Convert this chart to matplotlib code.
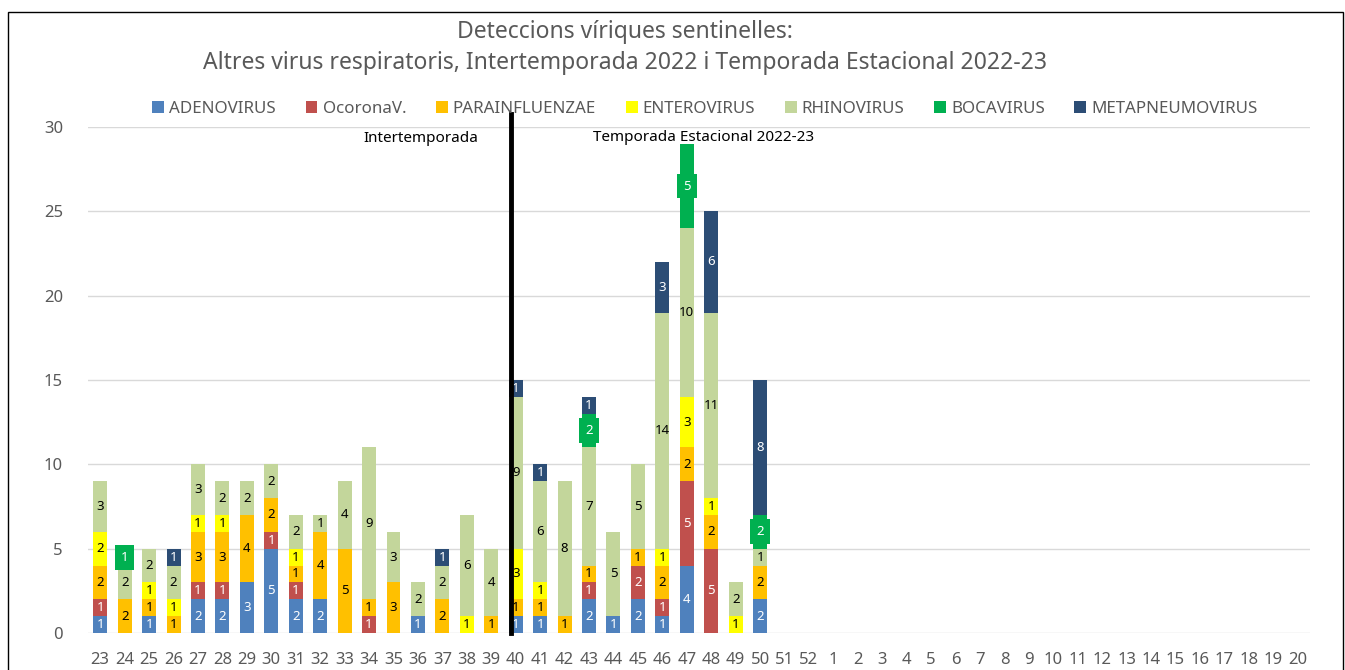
import matplotlib
matplotlib.use("Agg")
import matplotlib.pyplot as plt
import matplotlib.patches as mpatches
import numpy as np

plt.rcParams['font.family'] = ['Noto Sans', 'DejaVu Sans']

# Week labels on the x axis (weeks 23..52 of 2022, then 1..20 of 2023)
weeks = [str(w) for w in range(23, 53)] + [str(w) for w in range(1, 21)]

# Detections per virus, weeks 23..50
adeno = [1, 0, 1, 0, 2, 2, 3, 5, 2, 2, 0, 0, 0, 1, 0, 0, 0, 1, 1, 0, 2, 1, 2, 1, 4, 0, 0, 2]
corona = [1, 0, 0, 0, 1, 1, 0, 1, 1, 0, 0, 1, 0, 0, 0, 0, 0, 0, 0, 0, 1, 0, 2, 1, 5, 5, 0, 0]
parainf = [2, 2, 1, 1, 3, 3, 4, 2, 1, 4, 5, 1, 3, 0, 2, 0, 1, 1, 1, 1, 1, 0, 1, 2, 2, 2, 0, 2]
entero = [2, 0, 1, 1, 1, 1, 0, 0, 1, 0, 0, 0, 0, 0, 0, 1, 0, 3, 1, 0, 0, 0, 0, 1, 3, 1, 1, 0]
rhino = [3, 2, 2, 2, 3, 2, 2, 2, 2, 1, 4, 9, 3, 2, 2, 6, 4, 9, 6, 8, 7, 5, 5, 14, 10, 11, 2, 1]
boca = [0, 1, 0, 0, 0, 0, 0, 0, 0, 0, 0, 0, 0, 0, 0, 0, 0, 0, 0, 0, 2, 0, 0, 0, 5, 0, 0, 2]
metapneumo = [0, 0, 0, 1, 0, 0, 0, 0, 0, 0, 0, 0, 0, 0, 1, 0, 0, 1, 1, 0, 1, 0, 0, 3, 0, 6, 0, 8]

series_names = ['ADENOVIRUS', 'OcoronaV.', 'PARAINFLUENZAE', 'ENTEROVIRUS',
                'RHINOVIRUS', 'BOCAVIRUS', 'METAPNEUMOVIRUS']
series_vals = [adeno, corona, parainf, entero, rhino, boca, metapneumo]
colors = ['#4F81BD', '#C0504D', '#FFC000', '#FFFF00', '#C3D69B', '#00B050', '#2C4D75']
label_colors = ['white', 'white', 'black', 'black', 'black', 'white', 'white']

fig = plt.figure(figsize=(13.45, 6.70), dpi=100)
ax = fig.add_axes([88 / 1345, 37 / 670, (1310 - 88) / 1345, (633 - 127) / 670])

x = np.arange(len(adeno))
bottom = np.zeros(len(adeno))
for name, vals, col, lc in zip(series_names, series_vals, colors, label_colors):
    vals = np.array(vals)
    ax.bar(x, vals, width=0.57, bottom=bottom, color=col, label=name, zorder=2)
    for xi, b, v in zip(x, bottom, vals):
        if v > 0:
            kw = {}
            if name == 'BOCAVIRUS':
                kw['bbox'] = dict(boxstyle='square,pad=0.45', fc=col, ec='none')
            ax.text(xi, b + v / 2, str(v), ha='center', va='center',
                    fontsize=9.5, color=lc, zorder=4, **kw)
    bottom += vals

# separator between the two periods
sep = weeks.index('40') - 0.2
ax.plot([sep, sep], [0, 30.8], color='black', lw=3.5, clip_on=False, zorder=5)
ax.text(weeks.index('36') + 0.1, 29.3, 'Intertemporada', ha='center', va='center', fontsize=11)
ax.text(weeks.index('47') + 0.7, 29.4, 'Temporada Estacional 2022-23', ha='center', va='center', fontsize=11)

ax.set_xlim(-0.5, len(weeks) - 0.5)
ax.set_ylim(0, 30)
ax.set_xticks(np.arange(len(weeks)))
ax.set_xticklabels(weeks)
ax.set_yticks([0, 5, 10, 15, 20, 25, 30])
ax.tick_params(axis='both', length=0, labelsize=12, colors='#595959')
ax.tick_params(axis='y', pad=18)
ax.tick_params(axis='x', pad=14)
ax.grid(axis='y', color='#D9D9D9', lw=1, zorder=0)
for s in ax.spines.values():
    s.set_visible(False)

fig.text(625 / 1345, 1 - 32 / 670, 'Deteccions víriques sentinelles:', ha='center', va='center',
         fontsize=16.5, color='#595959')
fig.text(625 / 1345, 1 - 63 / 670,
         'Altres virus respiratoris, Intertemporada 2022 i Temporada Estacional 2022-23',
         ha='center', va='center', fontsize=16.5, color='#595959')

fig.legend(loc='center', bbox_to_anchor=(705 / 1345, 1 - 109 / 670), ncol=7, frameon=False,
           fontsize=12.2, handlelength=0.7, handleheight=0.7, handletextpad=0.3,
           columnspacing=1.75, labelcolor='#595959')

fig.patches.append(mpatches.Rectangle((8 / 1345, -0.01), 1335 / 1345, 1 - 12 / 670 + 0.01,
                                      transform=fig.transFigure, fill=False, ec='black', lw=1))

fig.savefig('out.png', dpi=100)
